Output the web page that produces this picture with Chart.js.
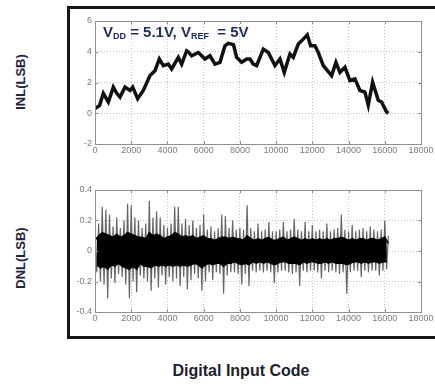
<!DOCTYPE html>
<html>
<head>
<meta charset="utf-8">
<script src="https://cdn.jsdelivr.net/npm/chart.js@4.4.0/dist/chart.umd.min.js"></script>
<style>
  body { margin: 0; background: #fff; width: 435px; height: 387px; overflow: hidden; position: relative;
         font-family: "Liberation Sans", Arial, sans-serif; }
  .frame { position: absolute; left: 67px; top: 6px; width: 380px; height: 327px; border: 3px solid #161616; }
  canvas { position: absolute; }
  #inl { left: 68px; top: 10px; }
  #dnl { left: 68px; top: 180px; }
  .ytitle { position: absolute; width: 90px; height: 16px; line-height: 16px; text-align: center;
            font-weight: bold; font-size: 13px; color: #1b2442; transform: rotate(-90deg); white-space: nowrap; }
  .xtitle { position: absolute; left: 140px; top: 362px; width: 202px; text-align: center;
            font-weight: bold; font-size: 16px; color: #1b2035; }
</style>
</head>
<body>
<div class="frame"></div>
<div class="ytitle" style="left:-24px; top:74px;">INL(LSB)</div>
<div class="ytitle" style="left:-24px; top:250px;">DNL(LSB)</div>
<div class="xtitle">Digital Input Code</div>
<canvas id="inl" width="367" height="150"></canvas>
<canvas id="dnl" width="367" height="148"></canvas>
<script>
// INL curve (code, LSB)
var inlCodes = [0, 250, 460, 736, 1012, 1200, 1380, 1656, 1932, 2080, 2355, 2668, 3036, 3312, 3552, 3772,
    4048, 4232, 4600, 4784, 5060, 5152, 5336, 5704, 6072, 6348, 6624, 6900, 7176, 7350, 7544, 7650, 7820,
    8096, 8372, 8556, 8740, 8924, 9292, 9568, 9936, 10212, 10451, 10764, 10948, 11224, 11500, 11721,
    11905, 12144, 12328, 12604, 13064, 13303, 13524, 13800, 14076, 14352, 14628, 14904, 15088, 15328,
    15640, 15824, 16100, 16200];
var inlValues = [0.3, 0.5, 1.3, 0.73, 1.7, 1.3, 1.05, 1.7, 1.48, 1.7, 0.95, 1.48, 2.45, 2.77, 3.53, 3.1,
    3.2, 2.88, 3.63, 3.2, 4.06, 4.0, 3.74, 3.95, 3.53, 3.74, 3.2, 3.31, 4.39, 4.55, 4.5, 4.45, 3.63,
    3.31, 3.53, 3.53, 3.2, 3.1, 4.17, 3.95, 3.1, 3.53, 2.66, 3.85, 3.63, 4.5, 4.82, 5.1,
    4.39, 4.39, 3.95, 3.1, 2.45, 3.31, 2.66, 2.99, 2.13, 2.24, 1.48, 1.37, 0.52, 2.02,
    0.84, 0.73, 0.08, 0.0];

// DNL samples every 100 codes
var dnlCodes = [0, 100, 200, 300, 400, 500, 600, 700, 800, 900, 1000, 1100, 1200, 1300, 1400, 1500, 1600, 1700, 1800, 1900,
    2000, 2100, 2200, 2300, 2400, 2500, 2600, 2700, 2800, 2900, 3000, 3100, 3200, 3300, 3400, 3500, 3600, 3700, 3800, 3900,
    4000, 4100, 4200, 4300, 4400, 4500, 4600, 4700, 4800, 4900, 5000, 5100, 5200, 5300, 5400, 5500, 5600, 5700, 5800, 5900,
    6000, 6100, 6200, 6300, 6400, 6500, 6600, 6700, 6800, 6900, 7000, 7100, 7200, 7300, 7400, 7500, 7600, 7700, 7800, 7900,
    8000, 8100, 8200, 8300, 8400, 8500, 8600, 8700, 8800, 8900, 9000, 9100, 9200, 9300, 9400, 9500, 9600, 9700, 9800, 9900,
    10000, 10100, 10200, 10300, 10400, 10500, 10600, 10700, 10800, 10900, 11000, 11100, 11200, 11300, 11400, 11500, 11600, 11700, 11800, 11900,
    12000, 12100, 12200, 12300, 12400, 12500, 12600, 12700, 12800, 12900, 13000, 13100, 13200, 13300, 13400, 13500, 13600, 13700, 13800, 13900,
    14000, 14100, 14200, 14300, 14400, 14500, 14600, 14700, 14800, 14900, 15000, 15100, 15200, 15300, 15400, 15500, 15600, 15700, 15800, 15900,
    16000, 16100, 16200];
// outer excursions (grey)
var dnlPeaks = [0.12, -0.14, 0.18, -0.2, 0.29, -0.22, 0.27, -0.31, 0.24, -0.18,
    0.16, -0.21, 0.22, -0.15, 0.15, -0.17, 0.2, -0.22, 0.31, -0.31,
    0.3, -0.2, 0.22, -0.27, 0.2, -0.16, 0.15, -0.18, 0.18, -0.2,
    0.33, -0.26, 0.22, -0.18, 0.26, -0.24, 0.22, -0.16, 0.17, -0.22,
    0.15, -0.17, 0.18, -0.2, 0.29, -0.18, 0.29, -0.23, 0.18, -0.17,
    0.21, -0.25, 0.17, -0.19, 0.2, -0.15, 0.15, -0.18, 0.17, -0.26,
    0.24, -0.2, 0.14, -0.14, 0.16, -0.19, 0.13, -0.14, 0.15, -0.15,
    0.24, -0.28, 0.23, -0.16, 0.15, -0.14, 0.2, -0.14, 0.14, -0.15,
    0.15, -0.22, 0.14, -0.15, 0.3, -0.23, 0.15, -0.13, 0.13, -0.14,
    0.18, -0.13, 0.13, -0.14, 0.14, -0.13, 0.19, -0.14, 0.13, -0.21,
    0.13, -0.14, 0.14, -0.13, 0.19, -0.13, 0.13, -0.14, 0.14, -0.15,
    0.21, -0.14, 0.14, -0.23, 0.13, -0.13, 0.19, -0.14, 0.13, -0.13,
    0.17, -0.13, 0.13, -0.14, 0.14, -0.18, 0.13, -0.13, 0.18, -0.14,
    0.13, -0.13, 0.14, -0.14, 0.15, -0.15, 0.24, -0.14, 0.14, -0.28,
    0.13, -0.14, 0.17, -0.13, 0.13, -0.13, 0.14, -0.17, 0.15, -0.13,
    0.13, -0.14, 0.16, -0.13, 0.14, -0.13, 0.13, -0.16, 0.14, -0.13,
    0.2, -0.12, 0.1];
// dense core (black): alternating upper / lower extent
var dnlCore = [0.07, -0.09, 0.1, -0.11, 0.12, -0.1, 0.11, -0.12, 0.1, -0.09,
    0.09, -0.1, 0.11, -0.08, 0.09, -0.1, 0.1, -0.11, 0.12, -0.12,
    0.11, -0.1, 0.1, -0.12, 0.09, -0.08, 0.09, -0.1, 0.08, -0.1,
    0.12, -0.11, 0.1, -0.09, 0.11, -0.1, 0.1, -0.09, 0.08, -0.1,
    0.09, -0.09, 0.1, -0.1, 0.12, -0.09, 0.11, -0.1, 0.09, -0.09,
    0.1, -0.1, 0.09, -0.09, 0.1, -0.08, 0.08, -0.09, 0.09, -0.11,
    0.1, -0.09, 0.08, -0.08, 0.08, -0.09, 0.07, -0.08, 0.08, -0.08,
    0.09, -0.1, 0.09, -0.08, 0.08, -0.08, 0.09, -0.07, 0.08, -0.08,
    0.08, -0.09, 0.07, -0.08, 0.1, -0.09, 0.08, -0.07, 0.07, -0.08,
    0.08, -0.07, 0.07, -0.08, 0.08, -0.07, 0.09, -0.08, 0.07, -0.09,
    0.07, -0.08, 0.08, -0.07, 0.09, -0.07, 0.07, -0.08, 0.08, -0.08,
    0.09, -0.08, 0.08, -0.09, 0.07, -0.07, 0.08, -0.08, 0.07, -0.07,
    0.08, -0.07, 0.07, -0.08, 0.08, -0.08, 0.07, -0.07, 0.08, -0.08,
    0.07, -0.07, 0.08, -0.08, 0.08, -0.08, 0.09, -0.08, 0.08, -0.09,
    0.07, -0.08, 0.08, -0.07, 0.07, -0.07, 0.08, -0.08, 0.08, -0.07,
    0.07, -0.08, 0.08, -0.07, 0.08, -0.07, 0.07, -0.08, 0.08, -0.07,
    0.09, -0.07, 0.05];

var xTicks = [0, 2000, 4000, 6000, 8000, 10000, 12000, 14000, 16000, 18000];

function pairs(xs, ys) {
    return xs.map(function (x, i) { return { x: x, y: ys[i] }; });
}
function side(xs, ys, positive) {
    return pairs(xs, ys).filter(function (p) { return positive ? p.y >= 0 : p.y < 0; });
}

// grey axes box with inward ticks
var axesBox = {
    id: 'axesBox',
    afterDraw: function (chart) {
        var a = chart.chartArea, ctx = chart.ctx;
        var xs = chart.scales.x, ys = chart.scales.y;
        ctx.save();
        ctx.strokeStyle = '#8f8f8f';
        ctx.lineWidth = 1;
        ctx.strokeRect(Math.round(a.left) + 0.5, Math.round(a.top) + 0.5,
            Math.round(a.right - a.left), Math.round(a.bottom - a.top));
        ctx.beginPath();
        xs.ticks.forEach(function (t) {
            var px = Math.round(xs.getPixelForValue(t.value)) + 0.5;
            ctx.moveTo(px, a.bottom); ctx.lineTo(px, a.bottom - 3);
            ctx.moveTo(px, a.top); ctx.lineTo(px, a.top + 3);
        });
        ys.ticks.forEach(function (t) {
            var py = Math.round(ys.getPixelForValue(t.value)) + 0.5;
            ctx.moveTo(a.left, py); ctx.lineTo(a.left + 3, py);
            ctx.moveTo(a.right, py); ctx.lineTo(a.right - 3, py);
        });
        ctx.stroke();
        ctx.restore();
    }
};

// supply annotation in the INL panel
var supplyLabel = {
    id: 'supplyLabel',
    afterDraw: function (chart) {
        var ctx = chart.ctx;
        var parts = [['V', 15, 0], ['DD', 9, 2], [' = 5.1V, V', 15, 0], ['REF', 9, 2], ['  = 5V', 15, 0]];
        var x = chart.chartArea.left + 8, y = chart.chartArea.top + 16;
        ctx.save();
        ctx.fillStyle = '#1d2c5c';
        ctx.textBaseline = 'alphabetic';
        parts.forEach(function (p) {
            ctx.font = 'bold ' + p[1] + 'px "Liberation Sans", Arial, sans-serif';
            ctx.fillText(p[0], x, y + p[2]);
            x += ctx.measureText(p[0]).width;
        });
        ctx.restore();
    }
};

function scaleOpts(min, max, step, yWidth) {
    return {
        x: {
            type: 'linear', min: 0, max: 18000,
            afterBuildTicks: function (s) { s.ticks = xTicks.map(function (v) { return { value: v }; }); },
            ticks: {
                color: '#7a7a7a', font: { size: 9 }, padding: 1, maxRotation: 0, autoSkip: false,
                callback: function (v) { return String(v); }
            },
            grid: { color: '#c4c4c4', drawTicks: false },
            border: { display: false, dash: [1, 2] },
            afterFit: function (s) { s.height = 16; }
        },
        y: {
            min: min, max: max,
            ticks: { stepSize: step, color: '#7a7a7a', font: { size: 9 }, padding: 3 },
            grid: { color: '#c4c4c4', drawTicks: false },
            border: { display: false, dash: [1, 2] },
            afterFit: function (s) { s.width = yWidth; }
        }
    };
}

var common = {
    responsive: false,
    animation: false,
    events: [],
    plugins: { legend: { display: false }, tooltip: { enabled: false } }
};

new Chart(document.getElementById('inl'), {
    type: 'line',
    data: {
        datasets: [{
            data: pairs(inlCodes, inlValues),
            borderColor: '#111',
            borderWidth: 3.5,
            pointRadius: 0,
            tension: 0
        }]
    },
    options: Object.assign({}, common, {
        layout: { padding: { top: 11, right: 14, left: 0, bottom: 0 } },
        scales: scaleOpts(-2, 6, 2, 27)
    }),
    plugins: [axesBox, supplyLabel]
});

// datasets draw last-to-first, so the grey spikes go underneath the black core band
new Chart(document.getElementById('dnl'), {
    type: 'line',
    data: {
        datasets: [{
            data: side(dnlCodes, dnlCore, true),
            borderColor: '#000',
            backgroundColor: '#000',
            fill: '+1',
            borderWidth: 1.5,
            pointRadius: 0,
            tension: 0
        }, {
            data: side(dnlCodes, dnlCore, false),
            borderColor: '#000',
            borderWidth: 1.5,
            pointRadius: 0,
            tension: 0
        }, {
            data: pairs(dnlCodes, dnlPeaks),
            borderColor: '#656565',
            borderWidth: 1.2,
            pointRadius: 0,
            tension: 0
        }]
    },
    options: Object.assign({}, common, {
        layout: { padding: { top: 10, right: 14, left: 0, bottom: 0 } },
        scales: scaleOpts(-0.4, 0.4, 0.2, 27)
    }),
    plugins: [axesBox]
});
</script>
</body>
</html>
